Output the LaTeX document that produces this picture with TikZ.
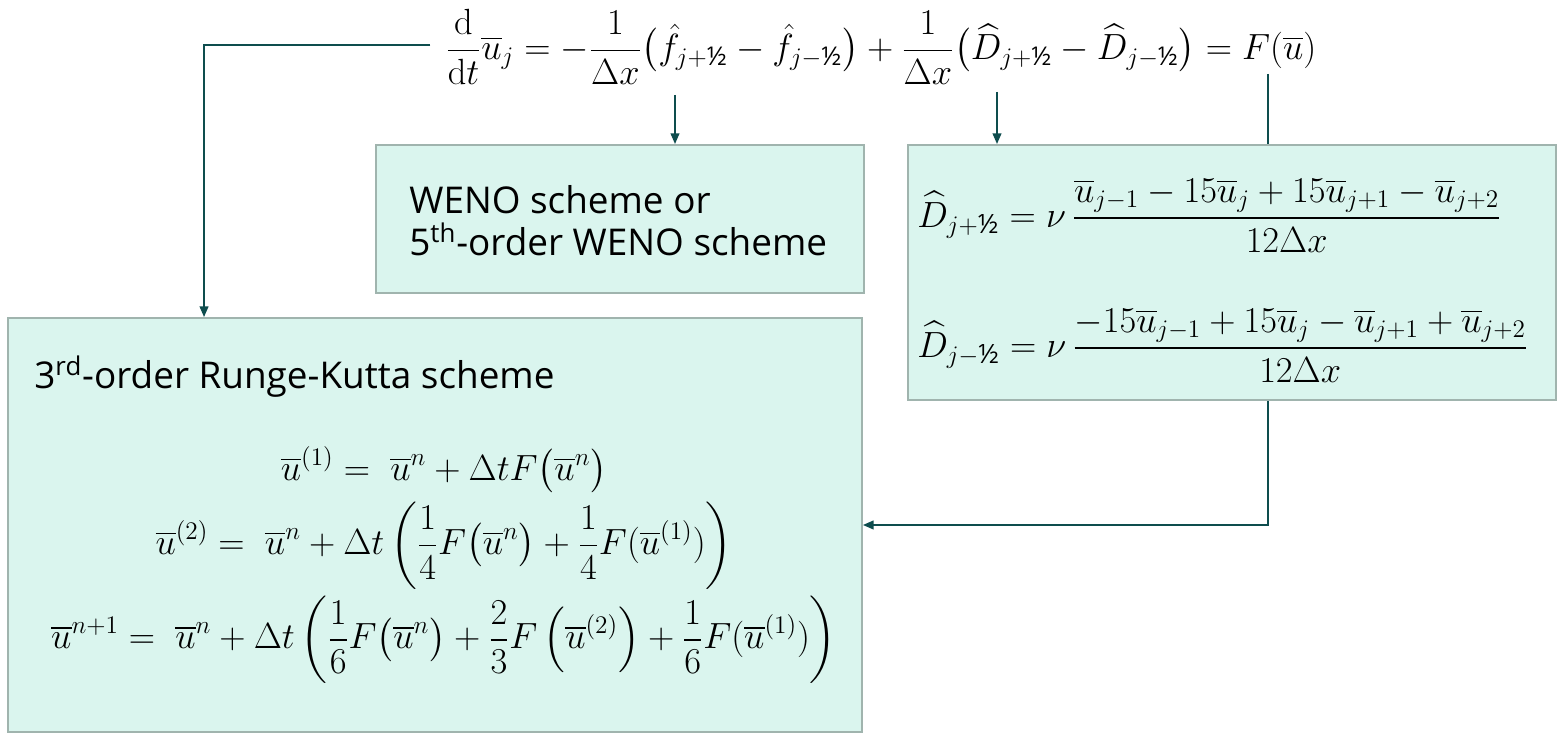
\documentclass[tikz,border=0pt]{standalone}
\usepackage{amsmath}
\usepackage[no-math]{fontspec}
\setmainfont{Open Sans}
\usetikzlibrary{arrows.meta, positioning, calc}
\definecolor{clrTeal}{HTML}{0E4D4E}
\definecolor{clrMint}{HTML}{DAF5EE}
\definecolor{clrSage}{HTML}{A0B4AE}
\newcommand{\ubar}{\overline{u}}
\newcommand{\hlf}{\text{½}}
\tikzset{
  scheme box/.style={rectangle, draw=clrSage, fill=clrMint, line width=1.2pt, inner sep=0pt},
  eq text/.style={inner sep=0pt, font=\fontsize{21}{27}\selectfont},
  label text/.style={inner sep=0pt, font=\fontsize{21}{24}\selectfont, align=left},
  arr/.style={-{Triangle[length=6pt, width=5pt]}, line width=0.8pt, clrTeal},
  tap/.style={line width=0.8pt, clrTeal},
}

\begin{document}
\begin{tikzpicture}[x=0.02cm, y=-0.02cm]
  \useasboundingbox (0,0) rectangle (1566,742);

  % Scheme boxes
  \node[scheme box, minimum width=9.76cm, minimum height=2.96cm] (weno) at (620,219) {};
  \node[scheme box, minimum width=12.96cm, minimum height=5.1cm] (dbox) at (1232,272.5) {};
  \node[scheme box, minimum width=17.08cm, minimum height=8.28cm] (rk) at (435,525) {};

  % Semi-discrete equation
  \node[eq text] (eq) at (881,47) {$\displaystyle \frac{\mathrm{d}}{\mathrm{d}t}\ubar_j = -\frac{1}{\Delta x}\bigl(\hat f_{j+\hlf} - \hat f_{j-\hlf}\bigr) + \frac{1}{\Delta x}\bigl(\widehat D_{j+\hlf} - \widehat D_{j-\hlf}\bigr) = F(\ubar)$};

  % Box contents
  \node[label text, anchor=west] (wenoText) at ($(weno.west)+(34,2)$) {WENO scheme or\\5\textsuperscript{th}-order WENO scheme};
  \node[eq text, font=\fontsize{21.6}{27}\selectfont, anchor=west] (dPlus) at ($(dbox.west)+(10,-57)$) {$\displaystyle \widehat D_{j+\hlf} = \nu\,\frac{\ubar_{j-1} - 15\ubar_j + 15\ubar_{j+1} - \ubar_{j+2}}{12\Delta x}$};
  \node[eq text, font=\fontsize{21.6}{27}\selectfont, anchor=west] (dMinus) at ($(dbox.west)+(10,73)$) {$\displaystyle \widehat D_{j-\hlf} = \nu\,\frac{-15\ubar_{j-1} + 15\ubar_j - \ubar_{j+1} + \ubar_{j+2}}{12\Delta x}$};
  \node[label text, anchor=base west] (rkTitle) at ($(rk.north west)+(27,72)$) {3\textsuperscript{rd}-order Runge-Kutta scheme};
  \node[eq text] (rkSteps) at (444,565) {$\begin{gathered}
    \ubar^{(1)} =\; \ubar^n + \Delta t F\bigl(\ubar^n\bigr)\\
    \ubar^{(2)} =\; \ubar^n + \Delta t\left(\frac14 F\bigl(\ubar^n\bigr) + \frac14 F(\ubar^{(1)})\right)\\
    \ubar^{n+1} =\; \ubar^n + \Delta t\left(\frac16 F\bigl(\ubar^n\bigr) + \frac23 F\left(\ubar^{(2)}\right) + \frac16 F(\ubar^{(1)})\right)
  \end{gathered}$};

  % Connectors
  \coordinate (eqTap) at ($(eq.west)+(-15,-2)$);
  \coordinate (fhatTap) at (675,95);
  \coordinate (dhatTap) at (997,92);
  \coordinate (fTap) at ($(dbox.north)+(36,-70)$);
  \draw[arr] (eqTap) -| ($(rk.north west)+(197,0)$);
  \draw[arr] (fhatTap) -- (fhatTap |- weno.north);
  \draw[arr] (dhatTap) -- (dhatTap |- dbox.north);
  \draw[tap] (fTap) -- (fTap |- dbox.north);
  \draw[arr] ($(dbox.south)+(36,0)$) |- (rk.east);
\end{tikzpicture}
\end{document}
